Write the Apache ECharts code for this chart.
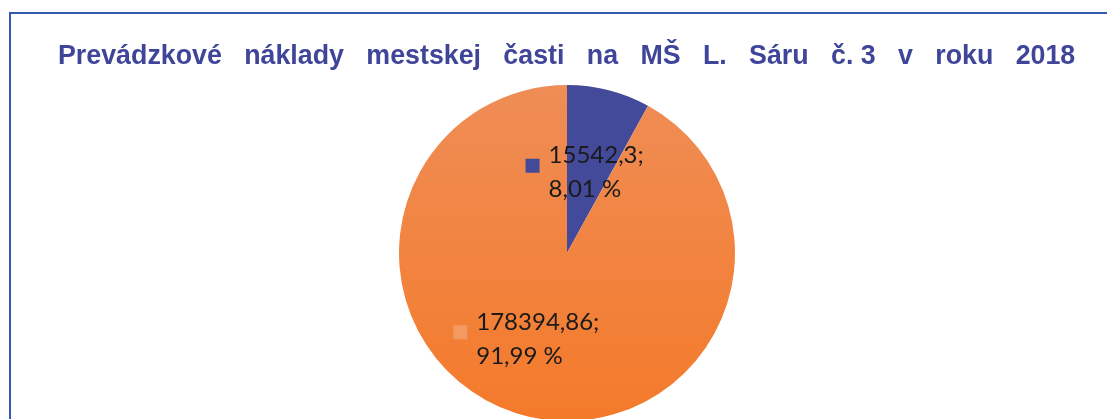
<!DOCTYPE html>
<html>
<head>
<meta charset="utf-8">
<script src="https://cdn.jsdelivr.net/npm/echarts@6/dist/echarts.min.js"></script>
<style>
html,body{margin:0;padding:0;background:#fff;}
#chart{width:1107px;height:419px;}
</style>
</head>
<body>
<div id="chart"></div>
<script>
const titleText = 'Prevádzkové   náklady   mestskej   časti   na   MŠ   L.   Sáru   č. 3   v   roku   2018';
const categories = ['Náklady A', 'Náklady B'];
const values = [15542.3, 178394.86];
const sliceColors = ['#434a9a', 'orange'];
const keyColors = ['#434a9a', '#f39a63'];

const total = values.reduce((a, b) => a + b, 0);
const fmtNum = v => String(v).replace('.', ',');
const fmtPct = v => (v / total * 100).toFixed(2).replace('.', ',');

const orangeGrad = new echarts.graphic.LinearGradient(0, 0, 0, 1, [
  { offset: 0, color: '#ef8d56' },
  { offset: 1, color: '#f47a2a' }
]);

const labelOffsets = [[-4, 4], [-19, 2]];

const data = categories.map((c, i) => ({
  name: c,
  value: values[i],
  itemStyle: { color: sliceColors[i] === 'orange' ? orangeGrad : sliceColors[i] },
  label: {
    offset: labelOffsets[i],
    rich: {
      sq: { width: 14, height: 14, backgroundColor: keyColors[i], align: 'left', verticalAlign: 'bottom' }
    }
  }
}));

const chart = echarts.init(document.getElementById('chart'), null, { renderer: 'canvas' });
chart.setOption({
  backgroundColor: '#ffffff',
  animation: false,
  title: {
    text: titleText,
    left: 53,
    top: 38,
    textStyle: {
      fontFamily: 'Liberation Sans, Arial, sans-serif',
      fontWeight: 'bold',
      fontSize: 26.8,
      color: '#3f4599'
    }
  },
  graphic: [{
    type: 'rect',
    shape: { x: 10, y: 13, width: 1200, height: 500 },
    style: { fill: 'none', stroke: '#3558b0', lineWidth: 2 },
    silent: true,
    z: 100
  }],
  series: [{
    type: 'pie',
    center: [567, 253],
    radius: ['0%', 168],
    startAngle: 90,
    clockwise: true,
    data: data,
    labelLine: { show: false },
    label: {
      show: true,
      position: 'inside',
      formatter: p => '{sq|}{gap|}{v|' + fmtNum(p.value) + ';}\n{pad|}{v|' + fmtPct(p.value) + ' %}',
      rich: {
        gap: { width: 9, align: 'left' },
        pad: { width: 23, align: 'left' },
        v: {
          fontFamily: 'Lato, Noto Sans, sans-serif',
          fontSize: 24,
          lineHeight: 34,
          color: '#1a1a1a',
          align: 'left'
        }
      }
    },
    emphasis: { disabled: true }
  }]
});
</script>
</body>
</html>
